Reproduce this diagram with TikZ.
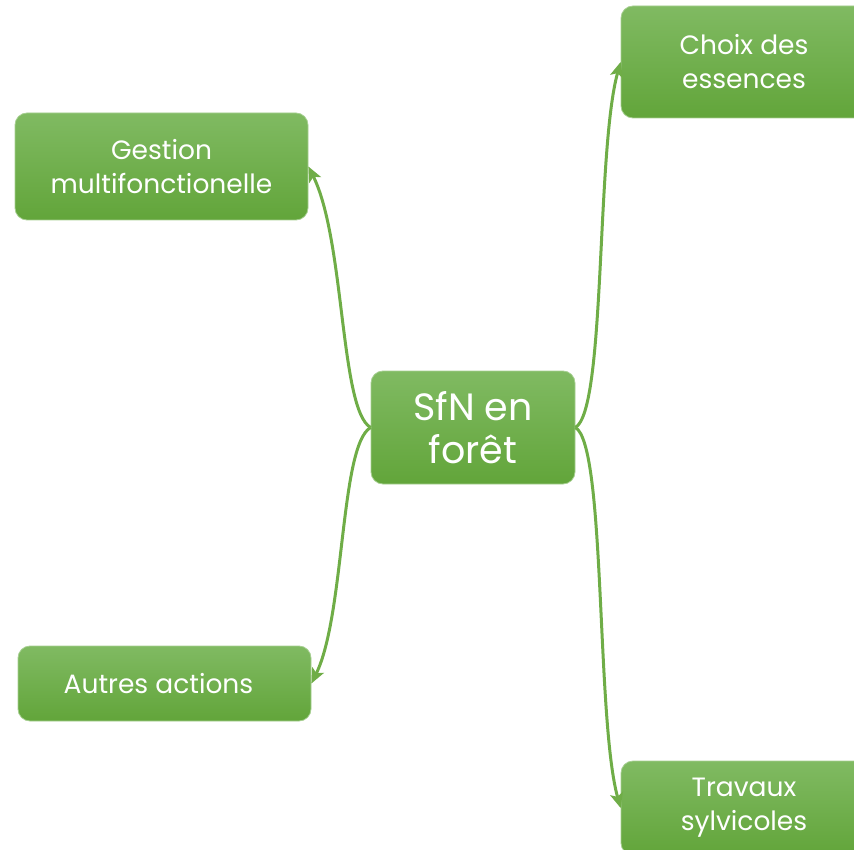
\documentclass[tikz,border=0pt]{standalone}
\usepackage{fontspec}
\setmainfont{Poppins}
\usetikzlibrary{arrows.meta}
\definecolor{gtop}{HTML}{80BA62}
\definecolor{gbot}{HTML}{62A53A}
\definecolor{lnk}{HTML}{6FAD47}
\begin{document}
\begin{tikzpicture}[x=1pt,y=-1pt,
  box/.style={rounded corners=12pt, top color=gtop, bottom color=gbot, draw=gtop!70!white, line width=0.8pt,
    text=white, align=center, inner sep=0pt, font=\fontsize{26.5}{34}\selectfont},
  lnkline/.style={draw=lnk, line width=3pt, -{Stealth[length=15pt,width=13pt,inset=3.5pt]}}]
\useasboundingbox (0,0) rectangle (854,850);
\clip (0,0) rectangle (854,850);
\node[box, minimum width=204pt, minimum height=113pt, font=\fontsize{38}{43}\selectfont] (center) at (473,427.5) {SfN en\\forêt};
\node[box, minimum width=246pt, minimum height=112pt] (choix) at (744,62) {Choix des\\essences};
\node[box, minimum width=293pt, minimum height=107pt] (gestion) at (161.5,166.5) {Gestion\\multifonctionelle};
\node[box, minimum width=293pt, minimum height=75pt] (autres) at (164.5,683.5) {\hspace{-12pt}Autres actions};
\node[box, minimum width=246pt, minimum height=94pt] (travaux) at (744,808) {Travaux\\sylvicoles};
\draw[lnkline] (center.west) .. controls (340,410) and (345,240) .. (gestion.east);
\draw[lnkline] (center.west) .. controls (340,445) and (345,615) .. (autres.east);
\draw[lnkline] (center.east) .. controls (606,410) and (596,150) .. (choix.west);
\draw[lnkline] (center.east) .. controls (606,445) and (596,720) .. (travaux.west);
\end{tikzpicture}
\end{document}
